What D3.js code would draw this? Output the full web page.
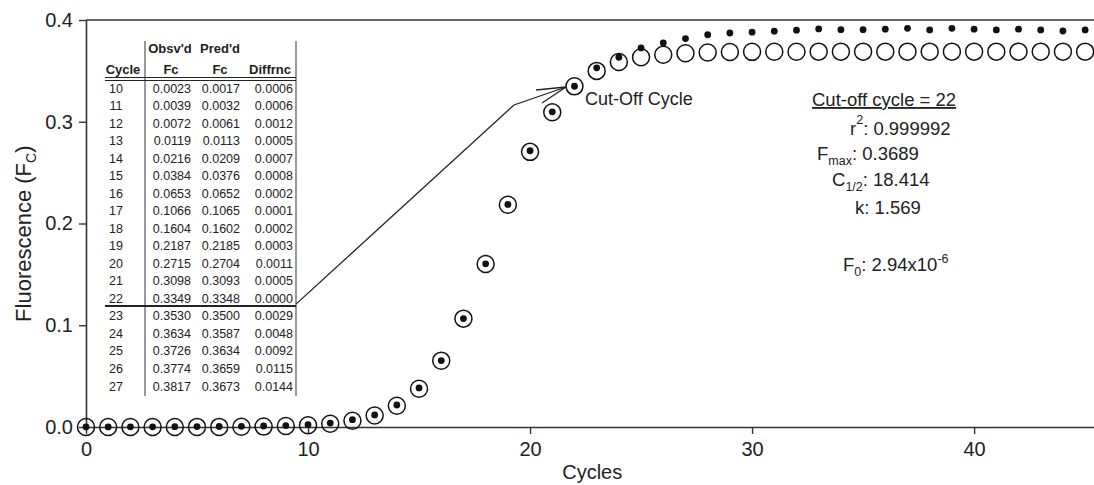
<!DOCTYPE html>
<html><head><meta charset="utf-8">
<script src="https://cdn.jsdelivr.net/npm/d3@7"></script>
<style>html,body{margin:0;padding:0;background:#fff;}svg{display:block;font-family:"Liberation Sans",Arial,sans-serif;}</style>
</head><body>
<svg id="c" width="1094" height="485"></svg>
<script>
const cycles = d3.range(0, 46);
const observed = [0.0001,0.0001,0.0002,0.0002,0.0003,0.0004,0.0005,0.0007,0.0010,0.0014,
  0.0023,0.0039,0.0072,0.0119,0.0216,0.0384,0.0653,0.1066,0.1604,0.2187,0.2715,0.3098,0.3349,
  0.3530,0.3634,0.3726,0.3774,0.3817,
  0.3855,0.3872,0.3880,0.3890,0.3900,0.3912,0.3905,0.3905,0.3910,0.3918,0.3902,0.3918,0.3910,0.3902,0.3910,0.3902,0.3892,0.3902];
const predicted = [0.0000,0.0000,0.0000,0.0000,0.0000,0.0001,0.0001,0.0002,0.0004,0.0009,
  0.0017,0.0032,0.0061,0.0113,0.0209,0.0376,0.0652,0.1065,0.1602,0.2185,0.2704,0.3093,0.3348,
  0.3500,0.3587,0.3634,0.3659,0.3673,
  0.3681,0.3685,0.3687,0.3688,0.3688,0.3689,0.3689,0.3689,0.3689,0.3689,0.3689,0.3689,0.3689,0.3689,0.3689,0.3689,0.3689,0.3689];
const xTicks = [0,10,20,30,40];
const yTicks = [0.0,0.1,0.2,0.3,0.4];
const tableCycles = [10,11,12,13,14,15,16,17,18,19,20,21,22,23,24,25,26,27];
const tableObs = ["0.0023","0.0039","0.0072","0.0119","0.0216","0.0384","0.0653","0.1066","0.1604","0.2187","0.2715","0.3098","0.3349","0.3530","0.3634","0.3726","0.3774","0.3817"];
const tablePred = ["0.0017","0.0032","0.0061","0.0113","0.0209","0.0376","0.0652","0.1065","0.1602","0.2185","0.2704","0.3093","0.3348","0.3500","0.3587","0.3634","0.3659","0.3673"];
const tableDiff = ["0.0006","0.0006","0.0012","0.0005","0.0007","0.0008","0.0002","0.0001","0.0002","0.0003","0.0011","0.0005","0.0000","0.0029","0.0048","0.0092","0.0115","0.0144"];

const svg = d3.select("#c");
const x = d3.scaleLinear().domain([0, 45.4]).range([86, 1094]);
const y = d3.scaleLinear().domain([0, 0.4]).range([427, 20]);
const ink = "#222";

// frame top
svg.append("line").attr("x1", 86).attr("x2", 1094).attr("y1", y(0.4)).attr("y2", y(0.4))
  .attr("stroke", "#666").attr("stroke-width", 2);

// axes
const xa = svg.append("g").attr("transform", `translate(0,${y(0)})`)
  .call(d3.axisBottom(x).tickValues(xTicks).tickFormat(d3.format("d")).tickSize(7).tickPadding(8).tickSizeOuter(0));
const ya = svg.append("g").attr("transform", `translate(${x(0)},0)`)
  .call(d3.axisLeft(y).tickValues(yTicks).tickFormat(d3.format(".1f")).tickSize(7).tickPadding(6).tickSizeOuter(0));
[xa, ya].forEach(g => {
  g.select(".domain").attr("stroke", "#333").attr("stroke-width", 1.6);
  g.selectAll(".tick line").attr("stroke", "#333").attr("stroke-width", 1.4);
  g.selectAll(".tick text").attr("fill", ink).attr("font-size", 20).attr("font-family", "Liberation Sans, Arial, sans-serif");
});

// axis labels
svg.append("text").attr("x", x(22.8)).attr("y", 479).attr("text-anchor", "middle")
  .attr("font-size", 20).attr("fill", ink).text("Cycles");
const yl = svg.append("text").attr("transform", `translate(31,${y(0.19)}) rotate(-90)`)
  .attr("text-anchor", "middle").attr("font-size", 22).attr("fill", ink);
yl.append("tspan").text("Fluorescence (F");
yl.append("tspan").attr("font-size", 14).attr("dy", 5).text("C");
yl.append("tspan").attr("dy", -5).text(")");

// points
svg.append("g").selectAll("circle").data(cycles).join("circle")
  .attr("cx", d => x(d)).attr("cy", (d, i) => y(predicted[i])).attr("r", 8.5)
  .attr("fill", "none").attr("stroke", "#111").attr("stroke-width", 1.5);
svg.append("g").selectAll("circle").data(cycles).join("circle")
  .attr("cx", d => x(d)).attr("cy", (d, i) => y(observed[i])).attr("r", 3.4)
  .attr("fill", "#111");

// table
const tb = svg.append("g").attr("fill", ink).attr("font-size", 12.5);
const colObs = 191, colPred = 240, colDiff = 293;
const sepX = 145, rightX = 296, tableTop = 41, tableBot = 396;
const rowY = d3.scaleLinear().domain([10, 27]).range([88, 386]);
tb.append("line").attr("x1", sepX).attr("x2", sepX).attr("y1", tableTop).attr("y2", tableBot).attr("stroke", "#555").attr("stroke-width", 1.2);
tb.append("line").attr("x1", rightX).attr("x2", rightX).attr("y1", tableTop).attr("y2", tableBot).attr("stroke", "#555").attr("stroke-width", 1.2);
tb.append("line").attr("x1", 105).attr("x2", rightX).attr("y1", 77.5).attr("y2", 77.5).attr("stroke", "#222").attr("stroke-width", 1.2);
tb.append("line").attr("x1", 105).attr("x2", rightX).attr("y1", 80.5).attr("y2", 80.5).attr("stroke", "#222").attr("stroke-width", 1.2);
const cutY = (rowY(22) + rowY(23)) / 2 - 1;
tb.append("line").attr("x1", 105).attr("x2", rightX).attr("y1", cutY).attr("y2", cutY).attr("stroke", "#222").attr("stroke-width", 2);
const hdr = [["Obsv'd", 170, 53], ["Pred'd", 220, 53], ["Cycle", 123, 74], ["Fc", 171, 74], ["Fc", 220, 74], ["Diffrnc", 270, 74]];
tb.selectAll("text.h").data(hdr).join("text").attr("class", "h")
  .attr("x", d => d[1]).attr("y", d => d[2]).attr("text-anchor", "middle")
  .attr("font-weight", "bold").attr("font-size", 13).text(d => d[0]);
tableCycles.forEach((c, i) => {
  const yy = rowY(c) + 4.5;
  tb.append("text").attr("x", 116).attr("y", yy).attr("text-anchor", "middle").text(c);
  tb.append("text").attr("x", colObs).attr("y", yy).attr("text-anchor", "end").text(tableObs[i]);
  tb.append("text").attr("x", colPred).attr("y", yy).attr("text-anchor", "end").text(tablePred[i]);
  tb.append("text").attr("x", colDiff).attr("y", yy).attr("text-anchor", "end").text(tableDiff[i]);
});

// arrow
svg.append("path").attr("d", `M296,${cutY - 2} L514,105 L566,87`).attr("fill", "none").attr("stroke", "#222").attr("stroke-width", 1.3);
svg.append("path").attr("d", "M536,90 L566,87 L542,103").attr("fill", "none").attr("stroke", "#222").attr("stroke-width", 1.3);
svg.append("text").attr("x", 585).attr("y", 105).attr("font-size", 18).attr("fill", ink).text("Cut-Off Cycle");

// stats annotation
const st = svg.append("g").attr("fill", ink).attr("font-size", 18.5);
st.append("text").attr("x", 812).attr("y", 106).attr("text-decoration", "underline").text("Cut-off cycle = 22");
const t1 = st.append("text").attr("x", 850).attr("y", 135);
t1.append("tspan").text("r"); t1.append("tspan").attr("font-size", 12.5).attr("dy", -11).text("2"); t1.append("tspan").attr("dy", 11).text(": 0.999992");
const t2 = st.append("text").attr("x", 817).attr("y", 160);
t2.append("tspan").text("F"); t2.append("tspan").attr("font-size", 12.5).attr("dy", 5).text("max"); t2.append("tspan").attr("dy", -5).text(": 0.3689");
const t3 = st.append("text").attr("x", 832).attr("y", 186);
t3.append("tspan").text("C"); t3.append("tspan").attr("font-size", 12.5).attr("dy", 5).text("1/2"); t3.append("tspan").attr("dy", -5).text(": 18.414");
st.append("text").attr("x", 855).attr("y", 214).text("k: 1.569");
const t5 = st.append("text").attr("x", 843).attr("y", 271);
t5.append("tspan").text("F"); t5.append("tspan").attr("font-size", 12.5).attr("dy", 5).text("0"); t5.append("tspan").attr("dy", -5).text(": 2.94x10");
t5.append("tspan").attr("font-size", 12.5).attr("dy", -8).text("-6");
</script>
</body></html>
